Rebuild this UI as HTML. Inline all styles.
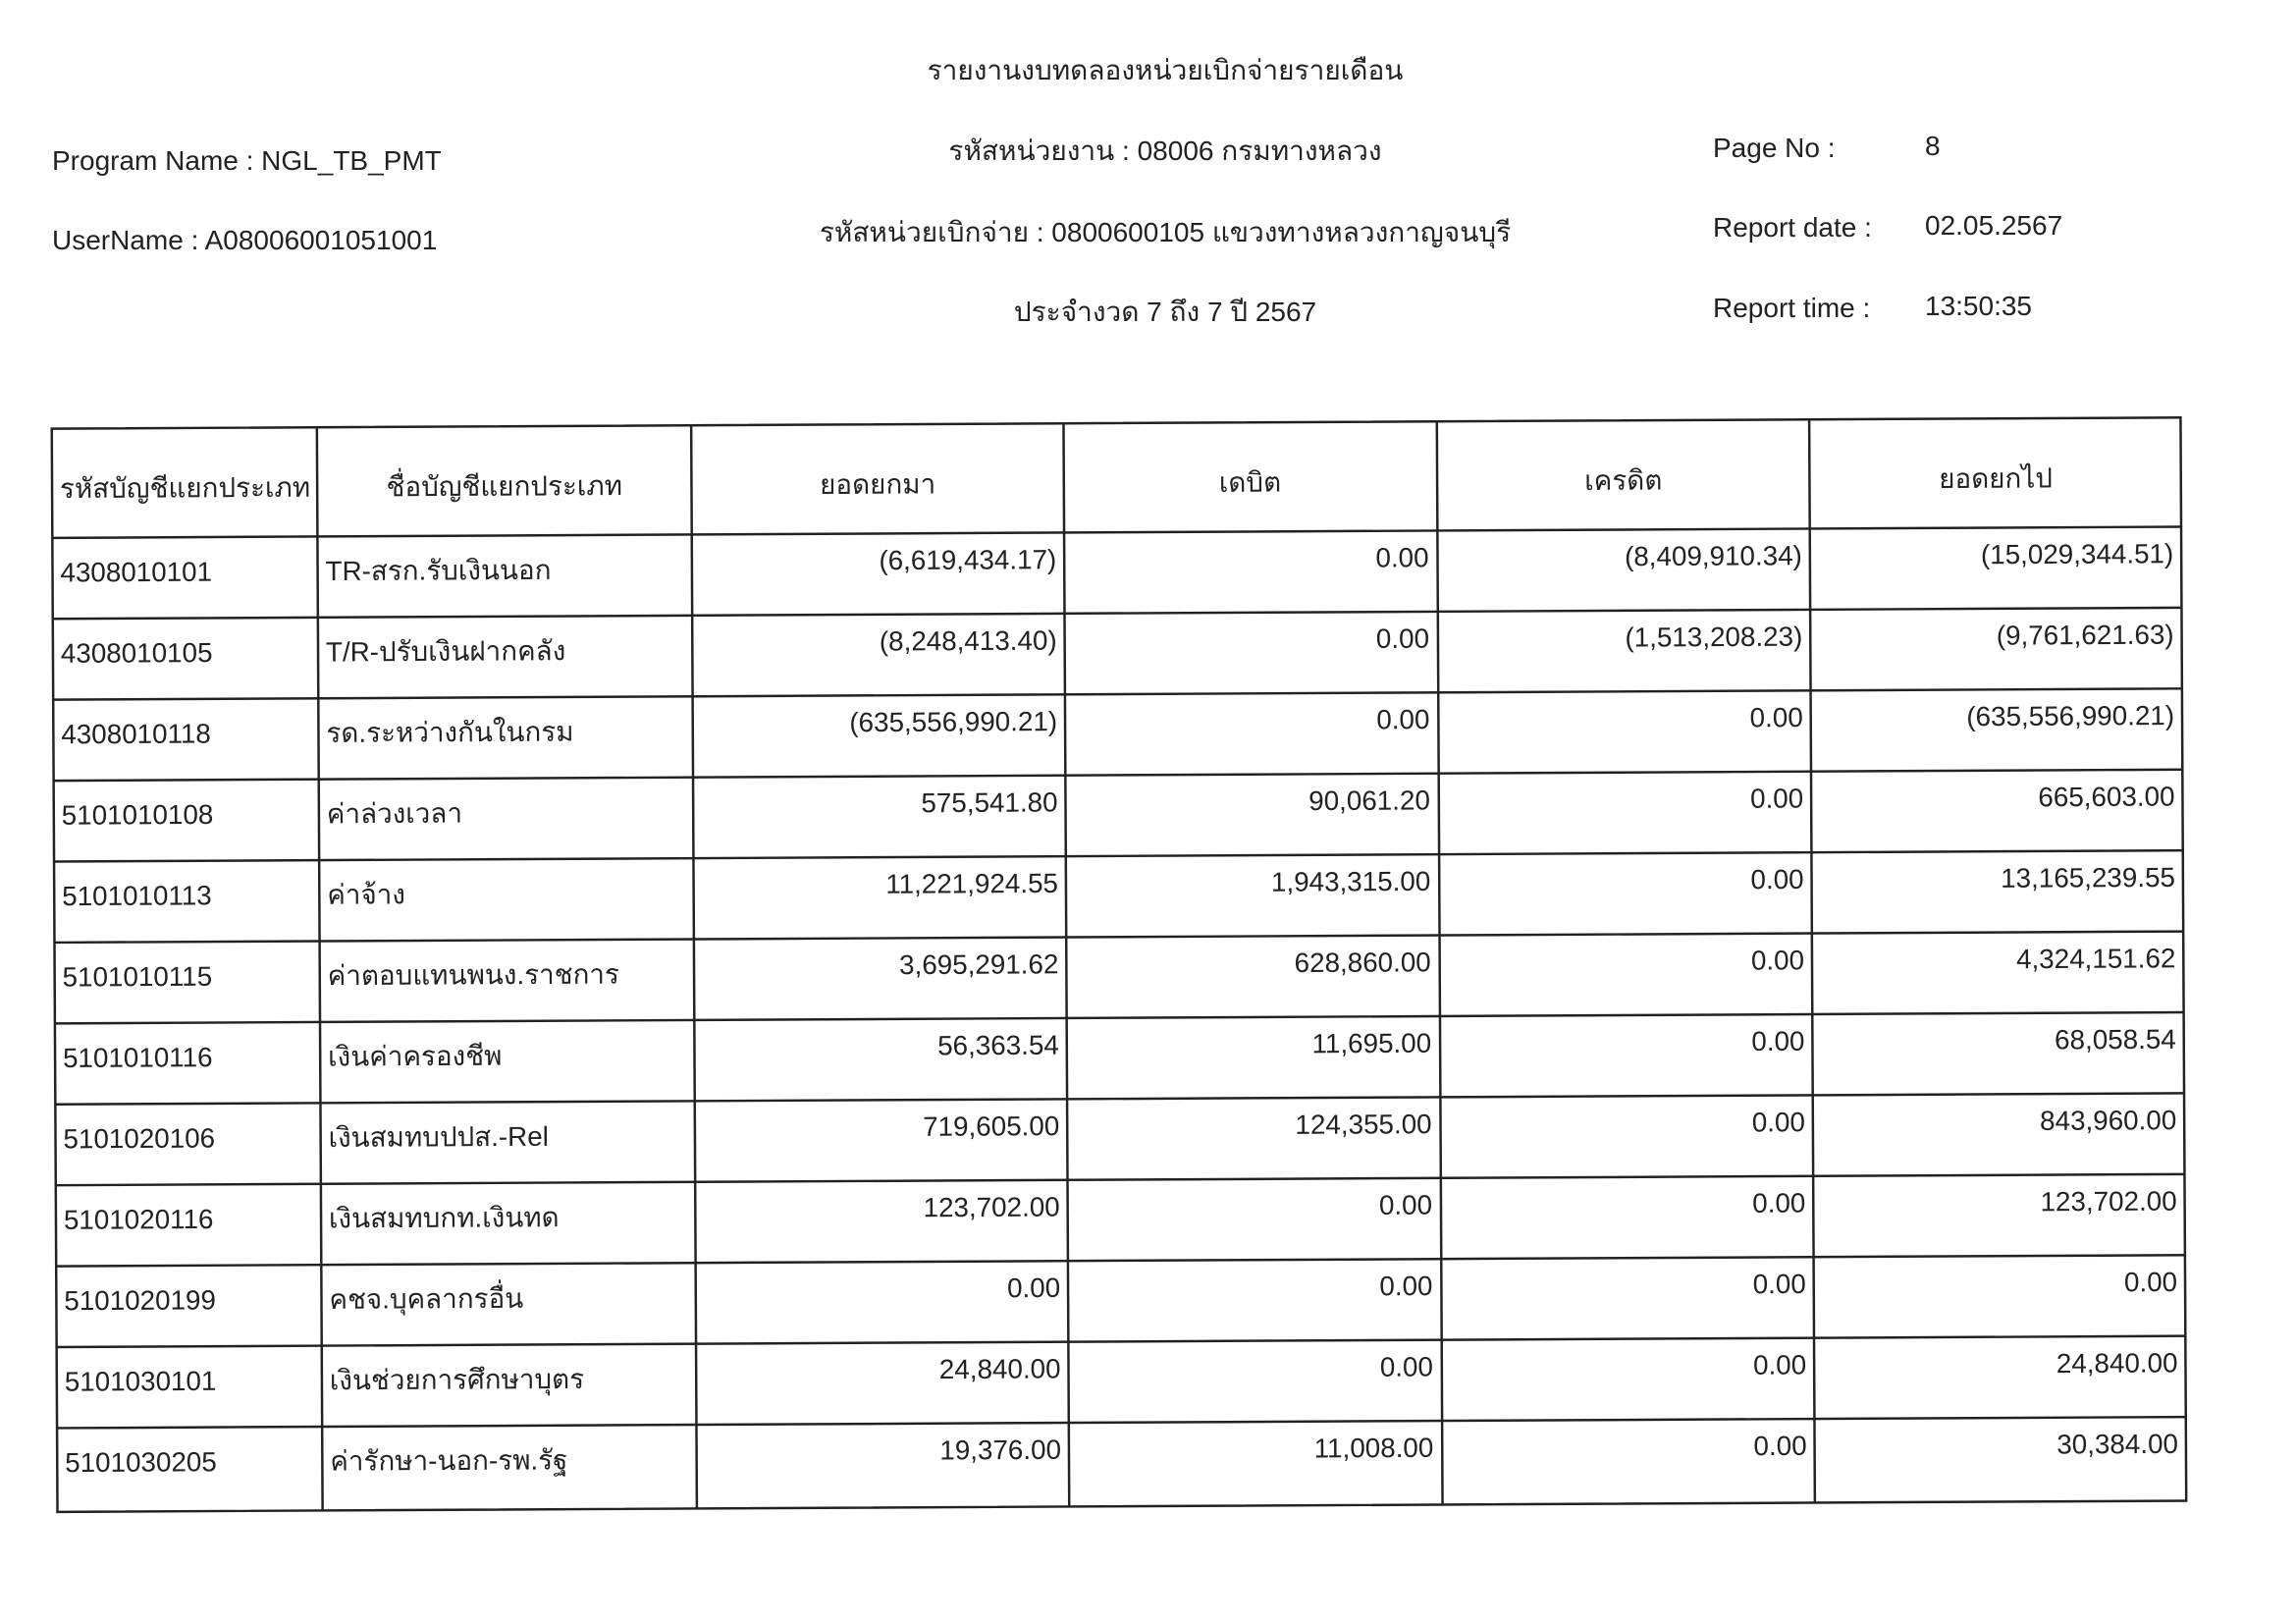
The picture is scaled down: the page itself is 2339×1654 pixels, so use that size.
<!DOCTYPE html>
<html><head><meta charset="utf-8">
<style>
html,body{margin:0;padding:0;background:#fff;}
svg{display:block;}
text{font-family:"Liberation Sans","DejaVu Sans",sans-serif;fill:#222;font-size:28px;}
</style></head>
<body>
<svg width="2339" height="1654" viewBox="0 0 2339 1654" xmlns="http://www.w3.org/2000/svg">
<rect width="2339" height="1654" fill="#fff"/>
<g transform="translate(0,1)">
<text x="1187" y="80" text-anchor="middle">รายงานงบทดลองหน่วยเบิกจ่ายรายเดือน</text>
<text x="53" y="172">Program Name : NGL_TB_PMT</text>
<text x="53" y="253">UserName : A08006001051001</text>
<text x="1187" y="162" text-anchor="middle">รหัสหน่วยงาน : 08006 กรมทางหลวง</text>
<text x="1187" y="245" text-anchor="middle">รหัสหน่วยเบิกจ่าย : 0800600105 แขวงทางหลวงกาญจนบุรี</text>
<text x="1187" y="326" text-anchor="middle">ประจำงวด 7 ถึง 7 ปี 2567</text>
<text x="1745" y="159">Page No :</text><text x="1961" y="157">8</text>
<text x="1745" y="240">Report date :</text><text x="1961" y="238">02.05.2567</text>
<text x="1745" y="322">Report time :</text><text x="1961" y="320">13:50:35</text>
</g>
<g transform="translate(0,-3) scale(0.993)">
<g transform="rotate(-0.3 1148 990)" stroke="#222" stroke-width="2.5" fill="none">
<rect x="56" y="437" width="2184" height="1111"/>
<line x1="56" y1="549" x2="2240" y2="549"/>
<line x1="56" y1="632" x2="2240" y2="632"/>
<line x1="56" y1="715" x2="2240" y2="715"/>
<line x1="56" y1="798" x2="2240" y2="798"/>
<line x1="56" y1="881" x2="2240" y2="881"/>
<line x1="56" y1="964" x2="2240" y2="964"/>
<line x1="56" y1="1047" x2="2240" y2="1047"/>
<line x1="56" y1="1130" x2="2240" y2="1130"/>
<line x1="56" y1="1213" x2="2240" y2="1213"/>
<line x1="56" y1="1296" x2="2240" y2="1296"/>
<line x1="56" y1="1379" x2="2240" y2="1379"/>
<line x1="56" y1="1462" x2="2240" y2="1462"/>
<line x1="328" y1="437" x2="328" y2="1548"/>
<line x1="712" y1="437" x2="712" y2="1548"/>
<line x1="1094" y1="437" x2="1094" y2="1548"/>
<line x1="1477" y1="437" x2="1477" y2="1548"/>
<line x1="1859" y1="437" x2="1859" y2="1548"/>
</g>
<g transform="rotate(-0.3 1148 990)">
<text x="64" y="508">รหัสบัญชีแยกประเภท</text>
<text x="520" y="508" text-anchor="middle">ชื่อบัญชีแยกประเภท</text>
<text x="903" y="508" text-anchor="middle">ยอดยกมา</text>
<text x="1285" y="508" text-anchor="middle">เดบิต</text>
<text x="1668" y="508" text-anchor="middle">เครดิต</text>
<text x="2050" y="508" text-anchor="middle">ยอดยกไป</text>
<text x="64" y="594">4308010101</text><text x="336" y="594">TR-สรก.รับเงินนอก</text>
<text x="1086" y="586" text-anchor="end">(6,619,434.17)</text><text x="1468" y="586" text-anchor="end">0.00</text><text x="1851" y="586" text-anchor="end">(8,409,910.34)</text><text x="2232" y="586" text-anchor="end">(15,029,344.51)</text>
<text x="64" y="677">4308010105</text><text x="336" y="677">T/R-ปรับเงินฝากคลัง</text>
<text x="1086" y="669" text-anchor="end">(8,248,413.40)</text><text x="1468" y="669" text-anchor="end">0.00</text><text x="1851" y="669" text-anchor="end">(1,513,208.23)</text><text x="2232" y="669" text-anchor="end">(9,761,621.63)</text>
<text x="64" y="760">4308010118</text><text x="336" y="760">รด.ระหว่างกันในกรม</text>
<text x="1086" y="752" text-anchor="end">(635,556,990.21)</text><text x="1468" y="752" text-anchor="end">0.00</text><text x="1851" y="752" text-anchor="end">0.00</text><text x="2232" y="752" text-anchor="end">(635,556,990.21)</text>
<text x="64" y="843">5101010108</text><text x="336" y="843">ค่าล่วงเวลา</text>
<text x="1086" y="835" text-anchor="end">575,541.80</text><text x="1468" y="835" text-anchor="end">90,061.20</text><text x="1851" y="835" text-anchor="end">0.00</text><text x="2232" y="835" text-anchor="end">665,603.00</text>
<text x="64" y="926">5101010113</text><text x="336" y="926">ค่าจ้าง</text>
<text x="1086" y="918" text-anchor="end">11,221,924.55</text><text x="1468" y="918" text-anchor="end">1,943,315.00</text><text x="1851" y="918" text-anchor="end">0.00</text><text x="2232" y="918" text-anchor="end">13,165,239.55</text>
<text x="64" y="1009">5101010115</text><text x="336" y="1009">ค่าตอบแทนพนง.ราชการ</text>
<text x="1086" y="1001" text-anchor="end">3,695,291.62</text><text x="1468" y="1001" text-anchor="end">628,860.00</text><text x="1851" y="1001" text-anchor="end">0.00</text><text x="2232" y="1001" text-anchor="end">4,324,151.62</text>
<text x="64" y="1092">5101010116</text><text x="336" y="1092">เงินค่าครองชีพ</text>
<text x="1086" y="1084" text-anchor="end">56,363.54</text><text x="1468" y="1084" text-anchor="end">11,695.00</text><text x="1851" y="1084" text-anchor="end">0.00</text><text x="2232" y="1084" text-anchor="end">68,058.54</text>
<text x="64" y="1175">5101020106</text><text x="336" y="1175">เงินสมทบปปส.-Rel</text>
<text x="1086" y="1167" text-anchor="end">719,605.00</text><text x="1468" y="1167" text-anchor="end">124,355.00</text><text x="1851" y="1167" text-anchor="end">0.00</text><text x="2232" y="1167" text-anchor="end">843,960.00</text>
<text x="64" y="1258">5101020116</text><text x="336" y="1258">เงินสมทบกท.เงินทด</text>
<text x="1086" y="1250" text-anchor="end">123,702.00</text><text x="1468" y="1250" text-anchor="end">0.00</text><text x="1851" y="1250" text-anchor="end">0.00</text><text x="2232" y="1250" text-anchor="end">123,702.00</text>
<text x="64" y="1341">5101020199</text><text x="336" y="1341">คชจ.บุคลากรอื่น</text>
<text x="1086" y="1333" text-anchor="end">0.00</text><text x="1468" y="1333" text-anchor="end">0.00</text><text x="1851" y="1333" text-anchor="end">0.00</text><text x="2232" y="1333" text-anchor="end">0.00</text>
<text x="64" y="1424">5101030101</text><text x="336" y="1424">เงินช่วยการศึกษาบุตร</text>
<text x="1086" y="1416" text-anchor="end">24,840.00</text><text x="1468" y="1416" text-anchor="end">0.00</text><text x="1851" y="1416" text-anchor="end">0.00</text><text x="2232" y="1416" text-anchor="end">24,840.00</text>
<text x="64" y="1507">5101030205</text><text x="336" y="1507">ค่ารักษา-นอก-รพ.รัฐ</text>
<text x="1086" y="1499" text-anchor="end">19,376.00</text><text x="1468" y="1499" text-anchor="end">11,008.00</text><text x="1851" y="1499" text-anchor="end">0.00</text><text x="2232" y="1499" text-anchor="end">30,384.00</text>
</g>
</g>
</svg>
</body></html>
